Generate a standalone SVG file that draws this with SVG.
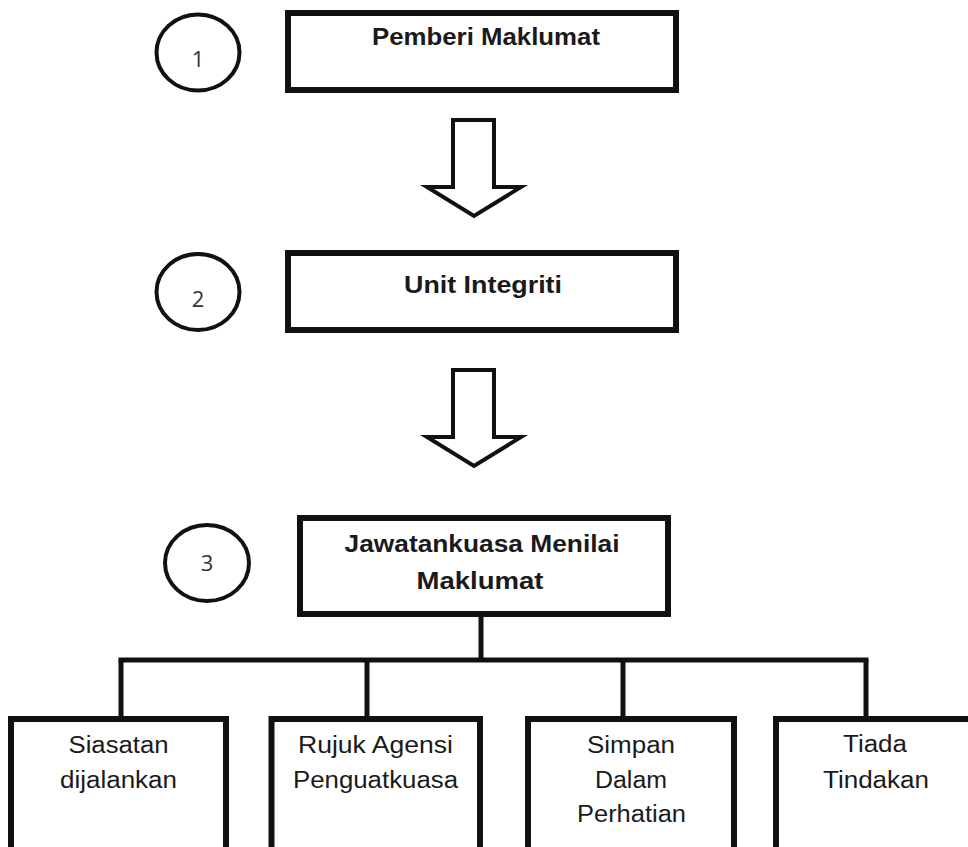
<svg xmlns="http://www.w3.org/2000/svg" width="968" height="847" viewBox="0 0 968 847">
  <style>
    .box { fill: #ffffff; stroke: #111111; stroke-width: 6; }
    .circ { fill: #ffffff; stroke: #111111; stroke-width: 4; }
    .arrow { fill: #ffffff; stroke: #111111; stroke-width: 4; stroke-linejoin: miter; }
    .conn { fill: none; stroke: #111111; stroke-width: 5; }
    .tb { font-family: "Liberation Sans", Arial, sans-serif; font-weight: bold; font-size: 23px; fill: #1a1a1a; text-anchor: middle; }
    .tr { font-family: "Liberation Sans", Arial, sans-serif; font-size: 23px; fill: #1a1a1a; text-anchor: middle; }
    .num { font-family: "Open Sans", "Noto Sans", sans-serif; font-size: 22px; fill: #333333; text-anchor: middle; }
  </style>
  <rect width="968" height="847" fill="#ffffff"/>

  <g id="connectors">
    <polygon class="arrow" points="453,120 494,120 494,187 521,187 474,216 427,187 453,187"/>
    <polygon class="arrow" points="453,370 494,370 494,437 521,437 474,466 427,437 453,437"/>
    <line class="conn" x1="481" y1="617" x2="481" y2="660"/>
    <line class="conn" x1="118.5" y1="660" x2="868.5" y2="660"/>
    <line class="conn" x1="121" y1="660" x2="121" y2="717"/>
    <line class="conn" x1="367" y1="660" x2="367" y2="717"/>
    <line class="conn" x1="623" y1="660" x2="623" y2="717"/>
    <line class="conn" x1="866" y1="660" x2="866" y2="717"/>
  </g>

  <g id="circle1">
    <ellipse class="circ" cx="198" cy="52.5" rx="41.5" ry="38"/>
    <text class="num" x="198" y="67">1</text>
  </g>
  <g id="circle2">
    <ellipse class="circ" cx="198" cy="292" rx="41.5" ry="38"/>
    <text class="num" x="198" y="307">2</text>
  </g>
  <g id="circle3">
    <ellipse class="circ" cx="207" cy="563" rx="42" ry="38"/>
    <text class="num" x="207" y="571">3</text>
  </g>

  <g id="node-pemberi">
    <rect class="box" x="288" y="13" width="388" height="77"/>
    <text class="tb" x="486" y="45" textLength="228" lengthAdjust="spacingAndGlyphs">Pemberi Maklumat</text>
  </g>
  <g id="node-unit">
    <rect class="box" x="288" y="253" width="388" height="77"/>
    <text class="tb" x="483" y="293" font-size="24" textLength="158" lengthAdjust="spacingAndGlyphs">Unit Integriti</text>
  </g>
  <g id="node-jawatankuasa">
    <rect class="box" x="300" y="518" width="368" height="96"/>
    <text class="tb" x="482" y="552" textLength="275" lengthAdjust="spacingAndGlyphs">Jawatankuasa Menilai</text>
    <text class="tb" x="480" y="589" textLength="127" lengthAdjust="spacingAndGlyphs">Maklumat</text>
  </g>

  <g id="node-siasatan">
    <rect class="box" x="11" y="719" width="215" height="160"/>
    <text class="tr" x="118.5" y="753" textLength="100" lengthAdjust="spacingAndGlyphs">Siasatan</text>
    <text class="tr" x="118.5" y="788" textLength="117" lengthAdjust="spacingAndGlyphs">dijalankan</text>
  </g>
  <g id="node-rujuk">
    <rect class="box" x="271.5" y="719" width="208.5" height="160"/>
    <text class="tr" x="375.5" y="753" textLength="155" lengthAdjust="spacingAndGlyphs">Rujuk Agensi</text>
    <text class="tr" x="375.5" y="788" textLength="165" lengthAdjust="spacingAndGlyphs">Penguatkuasa</text>
  </g>
  <g id="node-simpan">
    <rect class="box" x="528" y="719" width="206" height="160"/>
    <text class="tr" x="631" y="753" textLength="88" lengthAdjust="spacingAndGlyphs">Simpan</text>
    <text class="tr" x="631" y="788" textLength="72" lengthAdjust="spacingAndGlyphs">Dalam</text>
    <text class="tr" x="631.5" y="822" textLength="109" lengthAdjust="spacingAndGlyphs">Perhatian</text>
  </g>
  <g id="node-tiada">
    <rect class="box" x="776" y="719" width="220" height="160"/>
    <text class="tr" x="875" y="752" textLength="64" lengthAdjust="spacingAndGlyphs">Tiada</text>
    <text class="tr" x="876" y="788" textLength="106" lengthAdjust="spacingAndGlyphs">Tindakan</text>
  </g>
</svg>
